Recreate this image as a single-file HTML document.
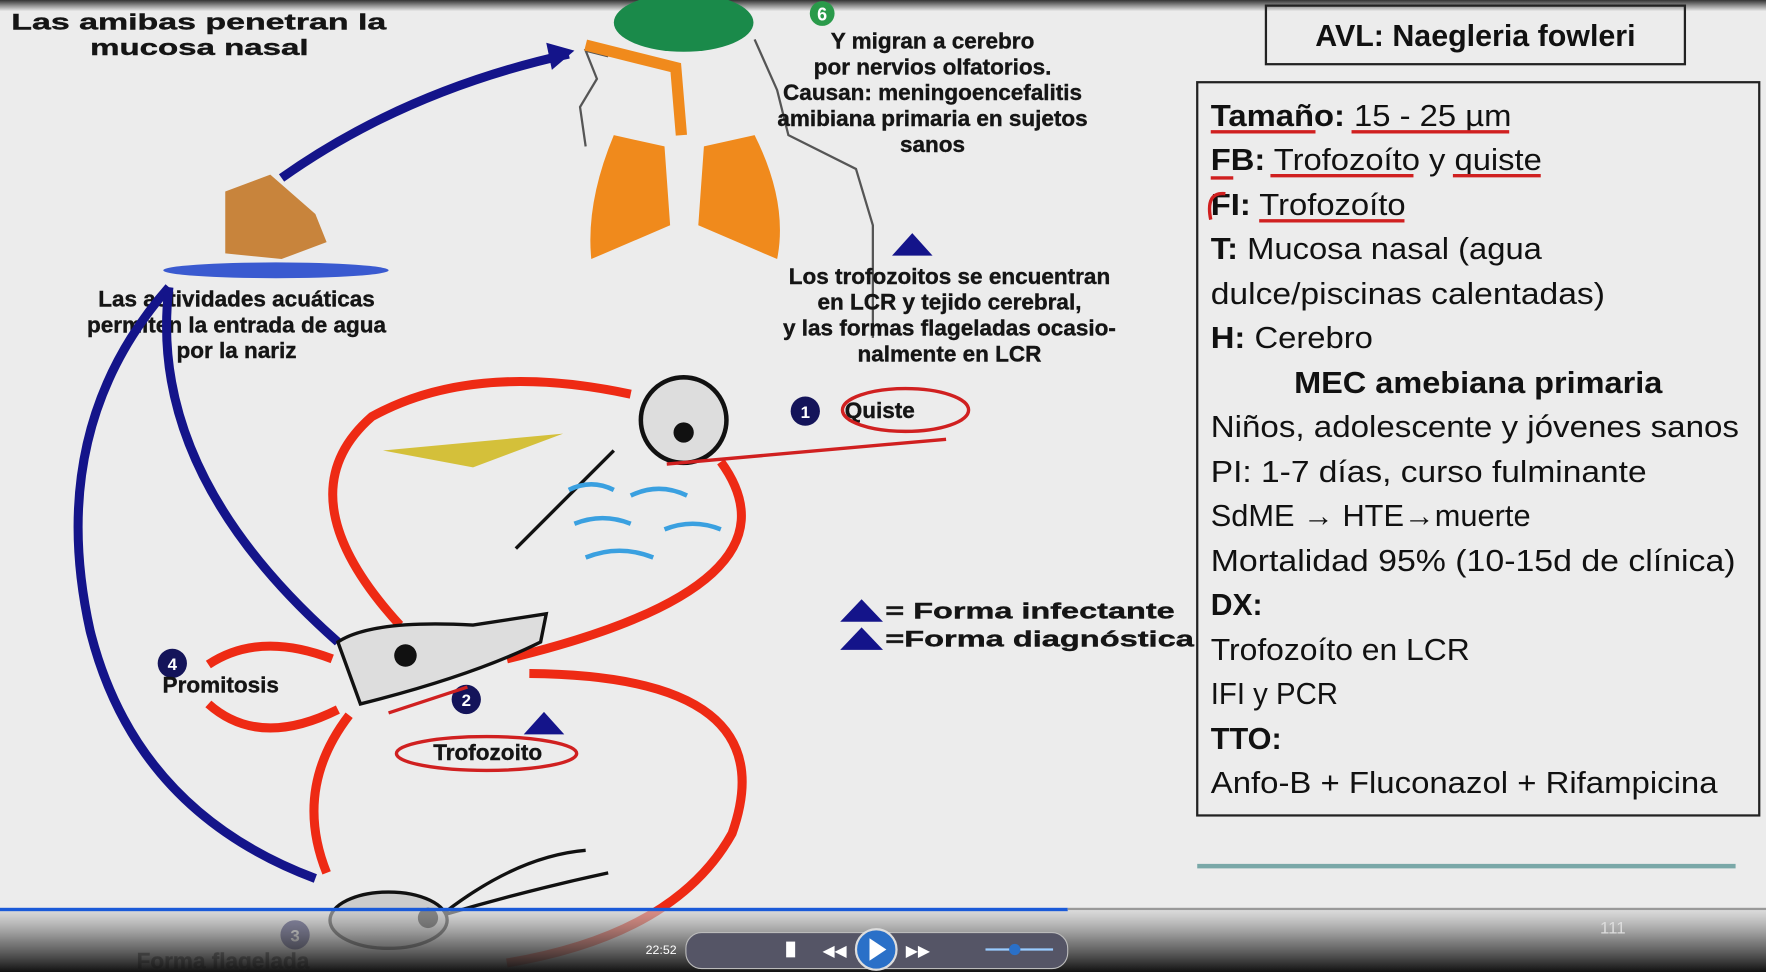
<!DOCTYPE html>
<html><head><meta charset="utf-8"><style>
html,body{margin:0;padding:0;background:#ececec;overflow:hidden}
svg{display:block}
.d{font-family:"Liberation Sans",sans-serif;font-weight:bold;font-size:20px;fill:#151515;stroke:#151515;stroke-width:0.35}
.r{font-family:"Liberation Sans",sans-serif;font-size:27px;fill:#111}
.rb{font-family:"Liberation Sans",sans-serif;font-size:27px;font-weight:bold;fill:#111}
</style></head><body>
<svg width="1766" height="972" viewBox="0 0 1568 863" preserveAspectRatio="none">
<defs>
<linearGradient id="top" x1="0" y1="0" x2="0" y2="1"><stop offset="0" stop-color="#333"/><stop offset="1" stop-color="#ececec"/></linearGradient>
<linearGradient id="bar" x1="0" y1="0" x2="0" y2="1"><stop offset="0" stop-color="#cfcfcf" stop-opacity="0.6"/><stop offset="0.5" stop-color="#666" stop-opacity="0.8"/><stop offset="1" stop-color="#111"/></linearGradient>
</defs>
<rect width="1568" height="863" fill="#ececec"/>
<rect width="1568" height="10" fill="url(#top)"/>
<g>
<text class="d" x="10" y="26" textLength="333" lengthAdjust="spacingAndGlyphs">Las amibas  penetran la</text>
<text class="d" x="80" y="49" textLength="194" lengthAdjust="spacingAndGlyphs">mucosa nasal</text>
<path d="M250 158 Q360 80 505 48" fill="none" stroke="#14148a" stroke-width="8"/>
<polygon points="510,45 485,38 490,62" fill="#14148a"/>
<ellipse cx="607" cy="20" rx="62" ry="26" fill="#1a8a4a"/>
<path d="M540 50 L520 45 L530 70 L515 95 L520 130 M670 35 L690 80 L700 120 L760 150 L775 200 L775 300" fill="none" stroke="#555" stroke-width="2"/>
<path d="M520 40 L600 60 L605 120" fill="none" stroke="#f08a1c" stroke-width="10"/>
<path d="M545 120 Q520 180 525 230 L595 200 L590 130 Z M625 130 L620 200 L690 230 Q700 180 670 120 Z" fill="#f08a1c"/>
<circle cx="730" cy="12" r="11" fill="#2a9a4a"/><text x="730" y="18" font-family="Liberation Sans" font-weight="bold" font-size="16" fill="#fff" text-anchor="middle">6</text>
<text class="d" x="828" y="43" text-anchor="middle">Y migran a cerebro</text>
<text class="d" x="828" y="66" text-anchor="middle">por nervios olfatorios.</text>
<text class="d" x="828" y="89" text-anchor="middle">Causan: meningoencefalitis</text>
<text class="d" x="828" y="112" text-anchor="middle">amibiana primaria en sujetos</text>
<text class="d" x="828" y="135" text-anchor="middle">sanos</text>
<polygon points="810,207 792,227 828,227" fill="#14148a"/>
<text class="d" x="843" y="252" text-anchor="middle">Los trofozoitos se encuentran</text>
<text class="d" x="843" y="275" text-anchor="middle">en LCR y tejido cerebral,</text>
<text class="d" x="843" y="298" text-anchor="middle">y las formas flageladas  ocasio-</text>
<text class="d" x="843" y="321" text-anchor="middle">nalmente en LCR</text>
<ellipse cx="245" cy="240" rx="100" ry="7" fill="#3a5ad0"/>
<path d="M200 170 L240 155 L280 190 L290 215 L250 230 L200 225 Z" fill="#c8843c"/>
<text class="d" x="210" y="272" text-anchor="middle">Las actividades acuáticas</text>
<text class="d" x="210" y="295" text-anchor="middle">permiten la entrada de agua</text>
<text class="d" x="210" y="318" text-anchor="middle">por la nariz</text>
<path d="M150 255 Q40 380 80 560 Q120 720 280 780" fill="none" stroke="#14148a" stroke-width="8"/>
<path d="M150 255 Q130 420 300 570" fill="none" stroke="#14148a" stroke-width="8"/>
<path d="M355 555 Q250 440 330 370 Q420 320 560 350" fill="none" stroke="#ee2a14" stroke-width="8"/>
<path d="M640 410 Q720 520 450 585" fill="none" stroke="#ee2a14" stroke-width="8"/>
<path d="M470 598 Q700 600 650 740 Q600 830 450 855" fill="none" stroke="#ee2a14" stroke-width="8"/>
<path d="M290 775 Q260 700 310 635" fill="none" stroke="#ee2a14" stroke-width="8"/>
<path d="M295 585 Q230 560 185 590 M185 625 Q230 665 300 630" fill="none" stroke="#ee2a14" stroke-width="8"/>
<polygon points="340,400 500,385 420,415" fill="#d4c03a"/>
<path d="M458 487 L545 400" stroke="#111" stroke-width="3"/>
<path d="M505 435 q20 -10 40 0 M510 465 q25 -10 50 0 M520 495 q30 -12 60 0 M560 440 q25 -12 50 0 M590 470 q25 -10 50 0" fill="none" stroke="#3aa0e0" stroke-width="4"/>
<circle cx="607" cy="373" r="38" fill="#ddd" stroke="#111" stroke-width="4"/><circle cx="607" cy="384" r="9" fill="#111"/>
<path d="M300 570 Q330 550 420 555 L485 545 L480 570 Q420 600 320 625 Z" fill="#ddd" stroke="#111" stroke-width="3"/><circle cx="360" cy="582" r="10" fill="#111"/>
<ellipse cx="345" cy="817" rx="52" ry="25" fill="#ccc" stroke="#111" stroke-width="3"/><circle cx="380" cy="815" r="9" fill="#111"/>
<path d="M395 810 Q460 760 520 755 M395 812 Q470 790 540 775" fill="none" stroke="#111" stroke-width="3"/>
<circle cx="715" cy="365" r="13" fill="#14145a"/><text x="715" y="371" font-family="Liberation Sans" font-weight="bold" font-size="15" fill="#fff" text-anchor="middle">1</text>
<text class="d" x="750" y="371" font-size="20">Quiste</text>
<ellipse cx="804" cy="364" rx="56" ry="19" fill="none" stroke="#d02020" stroke-width="3"/>
<path d="M592 412 L840 390" stroke="#d02020" stroke-width="3"/>
<circle cx="153" cy="589" r="13" fill="#14145a"/><text x="153" y="595" font-family="Liberation Sans" font-weight="bold" font-size="15" fill="#fff" text-anchor="middle">4</text>
<text class="d" x="196" y="615" text-anchor="middle">Promitosis</text>
<circle cx="414" cy="621" r="13" fill="#14145a"/><text x="414" y="627" font-family="Liberation Sans" font-weight="bold" font-size="15" fill="#fff" text-anchor="middle">2</text>
<polygon points="483,632 465,652 501,652" fill="#14148a"/>
<text class="d" x="433" y="675" text-anchor="middle">Trofozoito</text>
<ellipse cx="432" cy="669" rx="80" ry="15" fill="none" stroke="#d02020" stroke-width="3"/>
<path d="M345 633 L415 610" stroke="#d02020" stroke-width="3"/>
<polygon points="765,532 746,552 784,552" fill="#14148a"/>
<text class="d" x="786" y="549" textLength="257" lengthAdjust="spacingAndGlyphs">= Forma infectante</text>
<polygon points="765,557 746,577 784,577" fill="#14148a"/>
<text class="d" x="786" y="574" textLength="274" lengthAdjust="spacingAndGlyphs">=Forma diagnóstica</text>
<circle cx="262" cy="830" r="13" fill="#14145a"/><text x="262" y="836" font-family="Liberation Sans" font-weight="bold" font-size="15" fill="#fff" text-anchor="middle">3</text>
<text class="d" x="198" y="860" text-anchor="middle">Forma flagelada</text>
</g>
<g>
<rect x="1124" y="5" width="372" height="52" fill="none" stroke="#222" stroke-width="2"/>
<text class="rb" x="1310" y="41" text-anchor="middle" font-size="28">AVL: Naegleria fowleri</text>
</g>
<g>
<rect x="1063" y="73" width="499" height="651" fill="none" stroke="#222" stroke-width="2"/>
<text class="r" x="1075" y="112" textLength="267" lengthAdjust="spacingAndGlyphs"><tspan font-weight="bold">Tamaño:</tspan> 15 - 25 µm</text>
<text class="r" x="1075" y="151" textLength="294" lengthAdjust="spacingAndGlyphs"><tspan font-weight="bold">FB:</tspan> Trofozoíto y quiste</text>
<text class="r" x="1075" y="191" textLength="173" lengthAdjust="spacingAndGlyphs"><tspan font-weight="bold">FI:</tspan> Trofozoíto</text>
<text class="r" x="1075" y="230" textLength="294" lengthAdjust="spacingAndGlyphs"><tspan font-weight="bold">T:</tspan> Mucosa nasal (agua</text>
<text class="r" x="1075" y="270" textLength="350" lengthAdjust="spacingAndGlyphs">dulce/piscinas calentadas)</text>
<text class="r" x="1075" y="309" textLength="144" lengthAdjust="spacingAndGlyphs"><tspan font-weight="bold">H:</tspan> Cerebro</text>
<text class="rb" x="1149" y="349" textLength="327" lengthAdjust="spacingAndGlyphs">MEC amebiana primaria</text>
<text class="r" x="1075" y="388" textLength="469" lengthAdjust="spacingAndGlyphs">Niños, adolescente y jóvenes sanos</text>
<text class="r" x="1075" y="428" textLength="387" lengthAdjust="spacingAndGlyphs">PI: 1-7 días, curso fulminante</text>
<text class="r" x="1075" y="467" textLength="284" lengthAdjust="spacingAndGlyphs">SdME → HTE→muerte</text>
<text class="r" x="1075" y="507" textLength="466" lengthAdjust="spacingAndGlyphs">Mortalidad 95% (10-15d de clínica)</text>
<text class="rb" x="1075" y="546" textLength="46" lengthAdjust="spacingAndGlyphs">DX:</text>
<text class="r" x="1075" y="586" textLength="230" lengthAdjust="spacingAndGlyphs">Trofozoíto en LCR</text>
<text class="r" x="1075" y="625" textLength="113" lengthAdjust="spacingAndGlyphs">IFI y PCR</text>
<text class="rb" x="1075" y="665" textLength="63" lengthAdjust="spacingAndGlyphs">TTO:</text>
<text class="r" x="1075" y="704" textLength="450" lengthAdjust="spacingAndGlyphs">Anfo-B + Fluconazol + Rifampicina</text>
<path d="M1075 117 H1168 M1200 117 H1340 M1128 156 H1255 M1290 156 H1368 M1075 158 H1095 M1118 196 H1247 M1075 195 Q1070 170 1088 172" fill="none" stroke="#d02020" stroke-width="3"/>
</g>
<rect x="1063" y="767" width="478" height="4" fill="#7aa8a8"/>
<g>
<rect x="0" y="808" width="1568" height="55" fill="url(#bar)"/>
<rect x="0" y="806" width="948" height="3" fill="#1a5ad8"/>
<rect x="948" y="806" width="620" height="2" fill="#999"/>
<text x="1432" y="829" font-family="Liberation Sans" font-size="15" fill="#ddd" text-anchor="middle">111</text>
<text x="587" y="847" font-family="Liberation Sans" font-size="11" fill="#fff" text-anchor="middle">22:52</text>
<rect x="609" y="828" width="339" height="32" rx="14" fill="#556" stroke="#bbb"/>
<circle cx="778" cy="843" r="18" fill="#2a70c8" stroke="#ddd" stroke-width="2"/>
<polygon points="772,833 772,853 787,843" fill="#fff"/>
<text x="741" y="849" font-family="DejaVu Sans" font-size="14" fill="#fff" text-anchor="middle">◀◀</text>
<text x="815" y="849" font-family="DejaVu Sans" font-size="14" fill="#fff" text-anchor="middle">▶▶</text>
<rect x="698" y="836" width="8" height="14" fill="#fff"/>
<line x1="875" y1="843" x2="935" y2="843" stroke="#9cf" stroke-width="2"/><circle cx="901" cy="843" r="5" fill="#2a70c8"/>
</g>
</svg>
</body></html>
